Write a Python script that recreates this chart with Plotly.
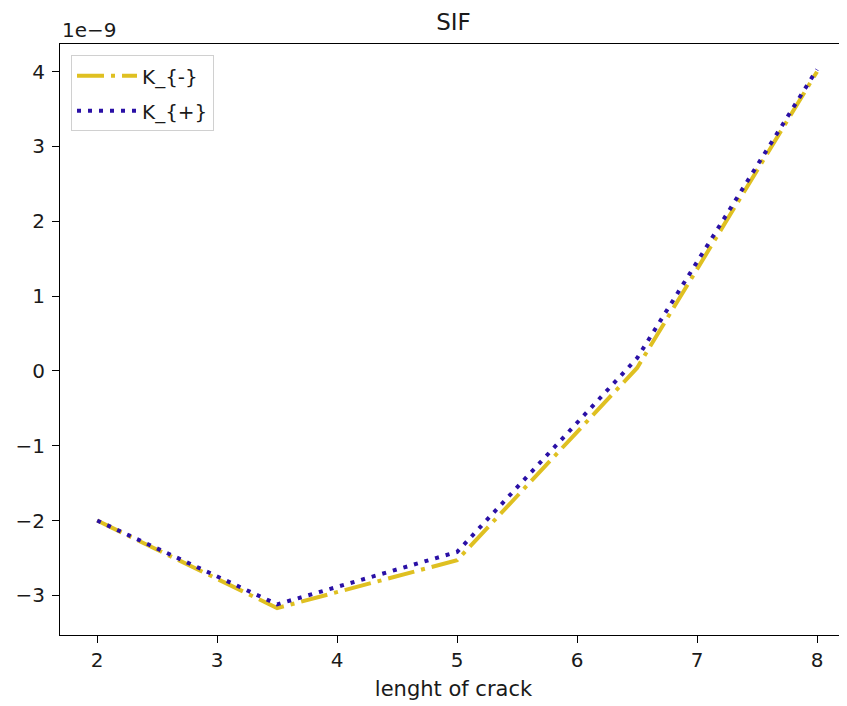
import plotly.graph_objects as go

crack_length = [2.0, 3.5, 5.0, 6.5, 8.0]
k_minus = [-2.0, -3.17, -2.53, 0.04, 4.0]
k_plus = [-2.0, -3.12, -2.42, 0.17, 4.03]
x_ticks = [2, 3, 4, 5, 6, 7, 8]
y_ticks = [-3, -2, -1, 0, 1, 2, 3, 4]
scale = 1e-9

# the page body adds an 8px offset, so the figure is 8px smaller than the window
W, H = 839, 698

fig = go.Figure()
fig.add_trace(go.Scatter(x=crack_length, y=[v * scale for v in k_minus], mode="lines",
                         name="K_{-}", legendgroup="a",
                         line=dict(color="#dfc021", width=4, dash="27px,7px,4px,7px")))
fig.add_trace(go.Scatter(x=crack_length, y=[v * scale for v in k_plus], mode="lines",
                         name="K_{+}", legendgroup="b",
                         line=dict(color="#2a10a6", width=4, dash="4px,7px")))

txt = "#1a1a1a"
fig.update_layout(
    width=W, height=H,
    margin=dict(l=52, r=0, t=36, b=71),
    plot_bgcolor="white", paper_bgcolor="white",
    font=dict(family="DejaVu Sans", size=20, color=txt),
    title=dict(text="SIF", x=(52 + 787 * 0.5 + 0) / W, xanchor="center", y=1 - 14 / H,
               yanchor="middle", font=dict(family="DejaVu Sans", size=23, color=txt)),
    showlegend=True,
    legend=dict(x=0.014, y=0.981, xanchor="left", yanchor="top", bgcolor="white",
                bordercolor="#d0d0d0", borderwidth=1, itemwidth=60, tracegroupgap=6,
                font=dict(family="DejaVu Sans", size=20, color=txt)),
    xaxis=dict(range=[1.69, 8.25], tickvals=x_ticks, ticktext=[str(t) for t in x_ticks],
               showgrid=False, zeroline=False, showline=True, mirror=True, linecolor="black",
               linewidth=1, ticks="outside", ticklen=7, tickcolor="black",
               tickfont=dict(size=20),
               title=dict(text="lenght of crack", standoff=10,
                          font=dict(family="DejaVu Sans", size=21))),
    yaxis=dict(range=[-3.53e-9, 4.37e-9], tickvals=[t * scale for t in y_ticks],
               ticktext=[str(t).replace("-", "\u2212") for t in y_ticks],
               showgrid=False, zeroline=False, showline=True, mirror=False, linecolor="black",
               linewidth=1, ticks="outside", ticklen=7, tickcolor="black",
               tickfont=dict(size=20), ticklabelstandoff=3),
)
fig.add_annotation(text="1e\u22129", xref="paper", yref="paper", x=0.0, y=1.0, xanchor="left",
                   yanchor="bottom", showarrow=False, yshift=0,
                   font=dict(family="DejaVu Sans", size=20, color=txt))
fig.write_html("out.html")
